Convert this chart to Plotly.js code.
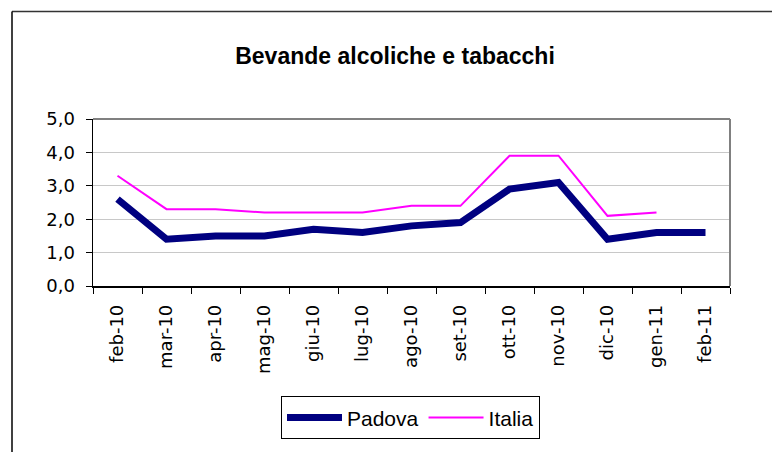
<!DOCTYPE html>
<html>
<head>
<meta charset="utf-8">
<script src="https://cdn.plot.ly/plotly-3.0.1.min.js"></script>
<style>html,body{margin:0;padding:0;background:#fff;}#chart{width:772px;height:452px;}</style>
</head>
<body>
<div id="chart"></div>
<script>
const months = ["feb-10","mar-10","apr-10","mag-10","giu-10","lug-10","ago-10","set-10","ott-10","nov-10","dic-10","gen-11","feb-11"];
const padova = [2.6,1.4,1.5,1.5,1.7,1.6,1.8,1.9,2.9,3.1,1.4,1.6,1.6];
const italia = [3.3,2.3,2.3,2.2,2.2,2.2,2.4,2.4,3.9,3.9,2.1,2.2,null];
const yTicks = [0,1,2,3,4,5];

const L = 93, R = 730, T = 119, B = 290, W = 772, H = 452;
const px = x => (x - L) / (R - L);
const py = y => (B - y) / (B - T);

const traces = [
  {x: months, y: padova, name: "Padova", type: "scatter", mode: "lines",
   line: {color: "#000080", width: 7}, connectgaps: false},
  {x: months, y: italia, name: "Italia", type: "scatter", mode: "lines",
   line: {color: "#FF00FF", width: 2}, connectgaps: false}
];

const layout = {
  width: W, height: H,
  margin: {l: L, r: W - R, t: T, b: H - B, pad: 0},
  paper_bgcolor: "#ffffff", plot_bgcolor: "#ffffff",
  separators: ",.",
  showlegend: true,
  title: {text: "<b>Bevande alcoliche e tabacchi</b>",
          font: {family: "Liberation Sans, Arial, sans-serif", size: 23, color: "#000"},
          xref: "container", yref: "container", x: 395 / W, y: 1 - 56 / H,
          xanchor: "center", yanchor: "middle"},
  xaxis: {type: "category", range: [-0.5, months.length - 0.5], tickson: "boundaries",
          ticks: "outside", ticklen: 6, tickcolor: "#000", tickwidth: 1,
          showline: true, linecolor: "#000", linewidth: 1.5, showgrid: false, zeroline: false,
          tickangle: -90, ticklabelstandoff: 10,
          tickfont: {family: "DejaVu Sans, sans-serif", size: 18, color: "#000"}, fixedrange: true},
  yaxis: {range: [0, 5], tickmode: "array", tickvals: yTicks, tickformat: ".1f",
          ticks: "outside", ticklen: 6, tickcolor: "#000", tickwidth: 1,
          showline: true, linecolor: "#000", linewidth: 1.5,
          showgrid: true, gridcolor: "#c8c8c8", gridwidth: 1, zeroline: false,
          ticklabelstandoff: 7,
          tickfont: {family: "DejaVu Sans, sans-serif", size: 18, color: "#000"}, fixedrange: true},
  legend: {orientation: "h", x: px(410.5), y: py(403), xanchor: "center", yanchor: "top",
           bgcolor: "#fff", bordercolor: "#000", borderwidth: 1,
           font: {family: "Liberation Sans, Arial, sans-serif", size: 21, color: "#000"},
           itemwidth: 55, tracegroupgap: 0},
  shapes: [
    {type: "line", xref: "paper", yref: "paper", x0: 0, x1: 1, y0: 1, y1: 1,
     line: {color: "#808080", width: 2}},
    {type: "line", xref: "paper", yref: "paper", x0: 1, x1: 1, y0: 0, y1: 1,
     line: {color: "#808080", width: 2}},
    {type: "line", xref: "paper", yref: "paper", x0: px(12), x1: px(790), y0: py(9), y1: py(9),
     line: {color: "#333", width: 1.5}},
    {type: "line", xref: "paper", yref: "paper", x0: px(12), x1: px(12), y0: py(9), y1: py(470),
     line: {color: "#000", width: 1.5}}
  ]
};

Plotly.newPlot("chart", traces, layout, {displayModeBar: false, staticPlot: true});
</script>
</body>
</html>
